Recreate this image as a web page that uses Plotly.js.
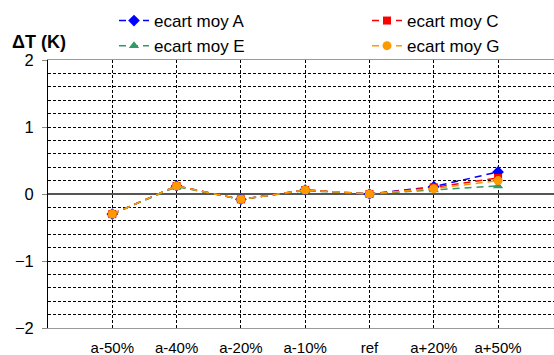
<!DOCTYPE html>
<html>
<head>
<meta charset="utf-8">
<script src="https://cdn.plot.ly/plotly-3.0.1.min.js"></script>
<style>html,body{margin:0;padding:0;background:#fff;}#chart{width:554px;height:355px;}</style>
</head>
<body>
<div id="chart"></div>
<script>
// Data
const categories = ["a-50%", "a-40%", "a-20%", "a-10%", "ref", "a+20%", "a+50%"];
const catPos = [1, 2, 3, 4, 5, 6, 7];
const ecartA = [-0.30, 0.12, -0.08, 0.06, 0.00, 0.11, 0.33];
const ecartC = [-0.30, 0.12, -0.08, 0.06, 0.00, 0.10, 0.24];
const ecartE = [-0.30, 0.11, -0.08, 0.05, 0.00, 0.06, 0.12];
const ecartG = [-0.30, 0.12, -0.08, 0.06, 0.00, 0.08, 0.20];
const seriesNames = ["ecart moy A", "ecart moy C", "ecart moy E", "ecart moy G"];
const yTickVals = [-2, -1, 0, 1, 2];

const FONT = "Liberation Sans, Arial, sans-serif";

function mk(name, y, color, symbol, size) {
  return {
    type: "scatter", mode: "lines+markers", name: name,
    x: catPos, y: y,
    line: {color: color, width: 1.5, dash: "7px,5px"},
    marker: {color: color, symbol: symbol, size: size}
  };
}

const data = [
  mk(seriesNames[0], ecartA, "#0000FF", "diamond", 9),
  mk(seriesNames[1], ecartC, "#FF0000", "square", 8),
  mk(seriesNames[2], ecartE, "#339966", "triangle-up", 9),
  mk(seriesNames[3], ecartG, "#FF9900", "circle", 9)
];

const layout = {
  width: 554, height: 355,
  margin: {l: 48, r: 0, t: 60, b: 27, pad: 0, autoexpand: false},
  paper_bgcolor: "#fff", plot_bgcolor: "#fff",
  font: {family: FONT, size: 16, color: "#000"},
  showlegend: true,
  legend: {
    orientation: "h", xref: "container", yref: "container",
    x: 114/554, y: 1 - 3/355, xanchor: "left", yanchor: "top",
    entrywidth: 208, entrywidthmode: "pixels",
    font: {family: FONT, size: 17, color: "#000"},
    bgcolor: "rgba(0,0,0,0)", borderwidth: 0, itemwidth: 30,
    tracegroupgap: 0
  },
  xaxis: {
    range: [0, 7.87], tickmode: "array", tickvals: catPos, ticktext: categories,
    showgrid: true, gridcolor: "#000", gridwidth: 1, griddash: "3px,2px",
    showline: true, linecolor: "#999", linewidth: 1, mirror: true,
    ticks: "", ticklabelstandoff: 6, zeroline: false,
    tickfont: {family: FONT, size: 15, color: "#000"}, fixedrange: true
  },
  yaxis: {
    range: [-2, 2], tickmode: "array", tickvals: yTickVals,
    showgrid: true, gridcolor: "#000", gridwidth: 1, griddash: "3px,2px",
    minor: {dtick: 0.2, tick0: 0, showgrid: true, gridcolor: "#000", gridwidth: 1, griddash: "3px,2px", ticks: ""},
    zeroline: true, zerolinecolor: "#555", zerolinewidth: 2,
    showline: true, linecolor: "#000", linewidth: 1,
    ticks: "outside", ticklen: 5, tickcolor: "#888", tickwidth: 1,
    ticklabelstandoff: 5,
    tickfont: {family: FONT, size: 16.5, color: "#000"}, fixedrange: true
  },
  annotations: [{
    text: "<b>ΔT (K)</b>", xref: "paper", yref: "paper",
    x: (10 - 48) / 506, y: (327.7 - 42) / 267.7,
    xanchor: "left", yanchor: "middle", showarrow: false,
    font: {family: FONT, size: 18, color: "#000"}
  }]
};

Plotly.newPlot("chart", data, layout, {staticPlot: true, displayModeBar: false});
</script>
</body>
</html>
